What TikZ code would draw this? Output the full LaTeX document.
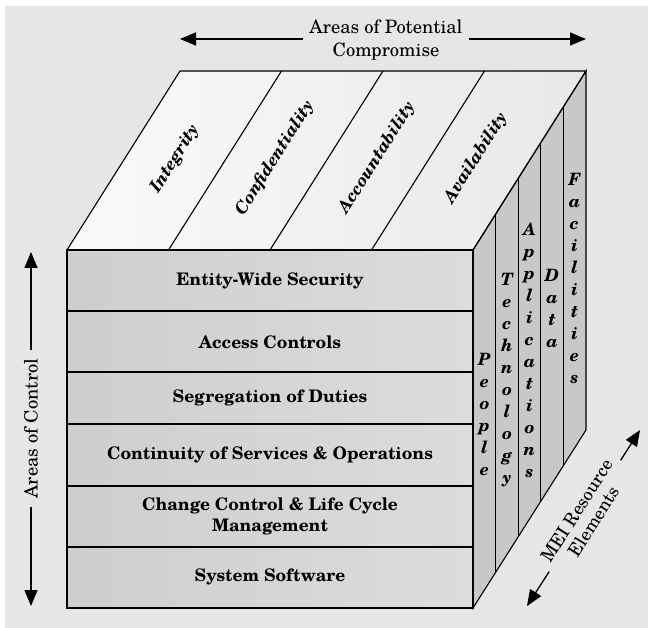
\documentclass[tikz,border=0pt]{standalone}
\usepackage{fontspec}
\setmainfont{TeX Gyre Schola}
\usetikzlibrary{arrows.meta}
\definecolor{bgc}{RGB}{230,230,230}
\definecolor{topL}{RGB}{250,250,250}
\definecolor{topR}{RGB}{232,232,232}
\definecolor{frontL}{RGB}{206,206,206}
\definecolor{frontR}{RGB}{220,220,220}
\definecolor{sidec}{RGB}{200,200,200}
\tikzset{
  edge/.style={draw=black,line width=1.1pt,line join=miter},
  arr/.style={line width=1.3pt,-{Triangle[length=16pt,width=13pt]}},
  rowlabel/.style={font=\fontsize{17.3}{21}\selectfont\bfseries,align=center,inner sep=0pt},
  toplabel/.style={font=\fontsize{17}{20}\selectfont\bfseries\itshape,rotate=57.7,inner sep=0pt},
  reslabel/.style={font=\fontsize{17}{22}\selectfont\bfseries\itshape,align=center,inner sep=0pt},
  arealabel/.style={font=\fontsize{18.5}{23}\selectfont,align=center},
}
\begin{document}
\begin{tikzpicture}[x=1pt,y=-1pt]
\useasboundingbox (0,0) rectangle (648,628);
\fill[white] (0,0) rectangle (648,628);
\fill[bgc] (5,6) rectangle (648,628);
% faces
\shade[left color=topL,right color=topR]
  (67,250) -- (180,71) -- (586,71) -- (473,250) -- cycle;
\shade[left color=frontL,right color=frontR]
  (67,250) rectangle (473,608);
\fill[sidec] (473,250) -- (586,71) -- (586,430) -- (473,608) -- cycle;
% top dividers
\foreach \k in {1,2,3}{
  \draw[edge] ({67+101.5*\k},250) -- ({180+101.5*\k},71);
}
% right dividers
\foreach \k in {1,2,3,4}{
  \draw[edge] ({473+22.6*\k},{250-35.8*\k}) -- ({473+22.6*\k},{608-35.8*\k});
}
% row lines
\foreach \y in {311,372,424,486,547}{
  \draw[edge] (67,\y) -- (473,\y);
}
% outlines
\draw[edge] (67,250) -- (180,71) -- (586,71) -- (473,250) -- cycle;
\draw[edge] (67,250) rectangle (473,608);
\draw[edge] (473,250) -- (586,71) -- (586,430) -- (473,608) -- cycle;
% front labels
\node[rowlabel] (r1) at (270,281) {Entity-Wide Security};
\node[rowlabel] (r2) at (270,342) {Access Controls};
\node[rowlabel] (r3) at (270,398) {Segregation of Duties};
\node[rowlabel] (r4) at (270,455) {Continuity of Services \& Operations};
\node[rowlabel] (r5) at (270,516.5) {Change Control \& Life Cycle\\Management};
\node[rowlabel] (r6) at (270,577) {System Software};
% top labels
\node[toplabel] (t1) at (175,159) {Integrity};
\node[toplabel] (t2) at (275,158) {Confidentiality};
\node[toplabel] (t3) at (377,158) {Accountability};
\node[toplabel] (t4) at (476,158) {Availability};
% right labels
\node[reslabel] (s1) at (484.5,414) {P\\e\\o\\p\\l\\e};
\node[reslabel] (s2) at (507,380) {T\\e\\c\\h\\n\\o\\l\\o\\g\\y};
\node[reslabel] (s3) at (529.5,350) {A\\p\\p\\l\\i\\c\\a\\t\\i\\o\\n\\s};
\node[reslabel] (s4) at (552,308) {D\\a\\t\\a};
\node[reslabel] (s5) at (574.5,278) {F\\a\\c\\i\\l\\i\\t\\i\\e\\s};
% axis labels and arrows
\node[arealabel,inner sep=6pt] (apc) at (386,40) {Areas of Potential\\Compromise};
\coordinate (apcL) at (180,39);
\coordinate (apcR) at (586,39);
\draw[arr] (apc.west |- apcL) -- (apcL);
\draw[arr] (apc.east |- apcR) -- (apcR);
\node[arealabel,rotate=90,inner sep=8pt] (aoc) at (31,428.5) {Areas of Control};
\coordinate (aocT) at (31,252);
\coordinate (aocB) at (31,606);
\draw[arr] (aoc) -- (aocT);
\draw[arr] (aoc) -- (aocB);
\node[arealabel,rotate=57.7,inner sep=7pt,font=\fontsize{18}{20}\selectfont] (mei) at (585,516) {MEI Resource\\Elements};
\coordinate (meiA) at (527,606);
\coordinate (meiB) at (640,430);
\draw[arr] (mei) -- (meiA);
\draw[arr] (mei) -- (meiB);
\end{tikzpicture}
\end{document}
